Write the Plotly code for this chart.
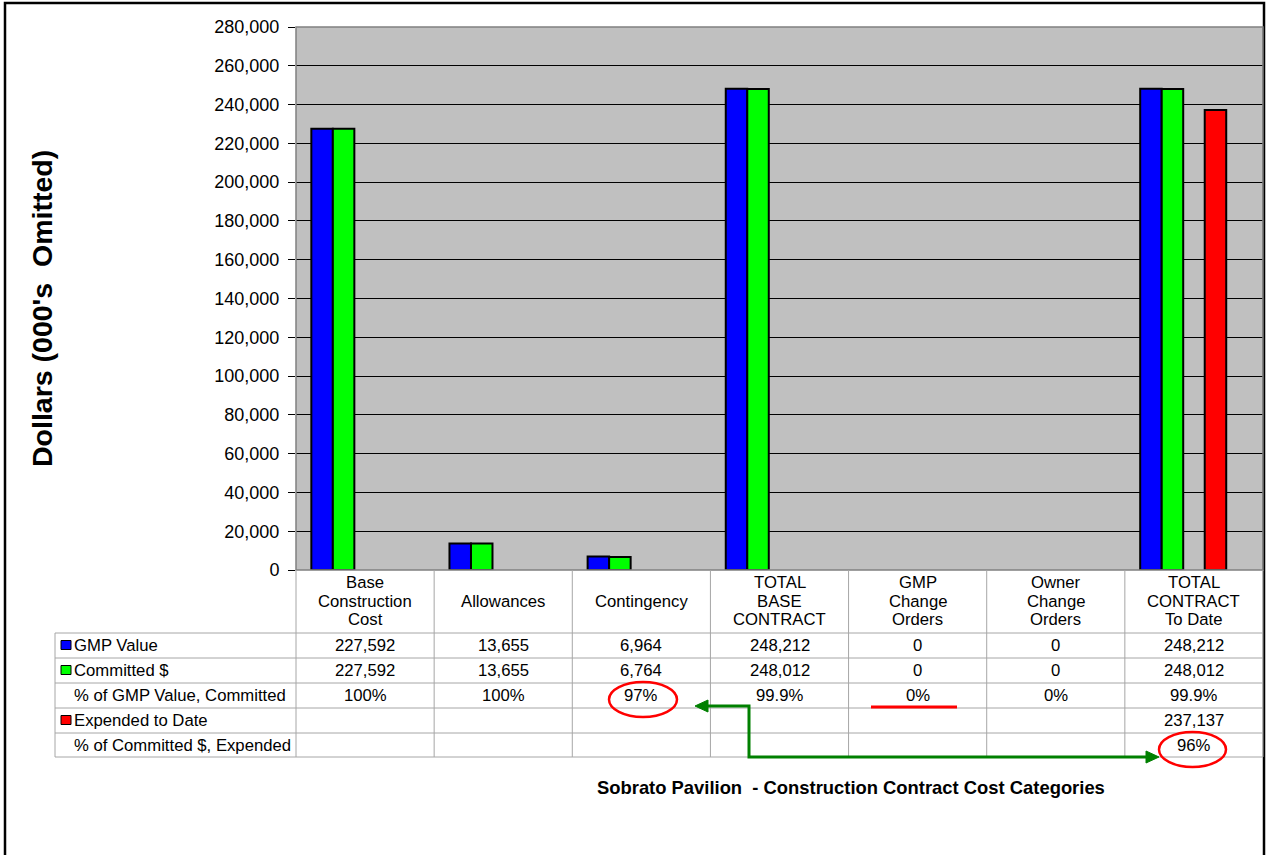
import plotly.graph_objects as go

# ---------------- data ----------------
categories = ["Base<br>Construction<br>Cost", "Allowances", "Contingency",
              "TOTAL<br>BASE<br>CONTRACT", "GMP<br>Change<br>Orders",
              "Owner<br>Change<br>Orders", "TOTAL<br>CONTRACT<br>To Date"]
gmp_value = [227592, 13655, 6964, 248212, 0, 0, 248212]
committed = [227592, 13655, 6764, 248012, 0, 0, 248012]
expended = [None, None, None, None, None, None, 237137]
pct_committed = ["100%", "100%", "97%", "99.9%", "0%", "0%", "99.9%"]
pct_expended = ["", "", "", "", "", "", "96%"]
row_labels = ["GMP Value", "Committed $", "% of GMP Value, Committed",
              "Expended to Date", "% of Committed $, Expended"]
y_ticks = list(range(0, 280001, 20000))

# ---------------- geometry helpers (pixels -> paper) ----------------
W, H = 1273, 855
L, R, T, B = 296, 1263, 27, 570
def fx(px):
    return (px - L) / (R - L)
def fy(py):
    return (B - py) / (B - T)

FONT = "Liberation Sans, Arial, sans-serif"
BLUE, GREEN, RED = "#0000FF", "#00FF00", "#FF0000"
TFS = 16.7  # table font size

n = len(categories)
xpos = list(range(n))
bw = 0.1557
slot0 = -0.389

fig = go.Figure()
for vals, color, slot, name in [(gmp_value, BLUE, 0, "GMP Value"),
                                (committed, GREEN, 1, "Committed $"),
                                (expended, RED, 3, "Expended to Date")]:
    lw = [2 if (v is not None and v > 0) else 0 for v in vals]
    fig.add_trace(go.Bar(x=xpos, y=vals, name=name, width=bw,
                         offset=slot0 + slot * bw,
                         marker=dict(color=color, line=dict(color="black", width=lw)),
                         showlegend=False, hoverinfo="y"))

shapes = []
annotations = []

# outer frame
shapes.append(dict(type="rect", xref="paper", yref="paper",
                   x0=fx(5), x1=fx(1264), y0=fy(3), y1=fy(900),
                   line=dict(color="black", width=2.5), layer="above"))
# plot area border
shapes.append(dict(type="rect", xref="paper", yref="paper",
                   x0=0, x1=1, y0=0, y1=1,
                   line=dict(color="#808080", width=1.5), layer="above"))

GRID = "#A6A6A6"
col_w = (R - L) / n
# table vertical lines
for k in range(n + 1):
    px = L + k * col_w
    shapes.append(dict(type="line", xref="paper", yref="paper",
                       x0=fx(px), x1=fx(px), y0=fy(570), y1=fy(757),
                       line=dict(color=GRID, width=1)))
shapes.append(dict(type="line", xref="paper", yref="paper",
                   x0=fx(55), x1=fx(55), y0=fy(633), y1=fy(757),
                   line=dict(color=GRID, width=1)))
# table horizontal lines
row_edges = [633, 658, 683, 708, 733, 757]
for py in row_edges:
    shapes.append(dict(type="line", xref="paper", yref="paper",
                       x0=fx(55), x1=fx(R), y0=fy(py), y1=fy(py),
                       line=dict(color=GRID, width=1)))

# header labels (one annotation per text line for Excel-like spacing)
LINE_H = 18.5
for i, c in enumerate(categories):
    lines = c.split("<br>")
    m = len(lines)
    for k, ln in enumerate(lines):
        py = 601 + (k - (m - 1) / 2) * LINE_H
        annotations.append(dict(x=i, xref="x", y=fy(py), yref="paper", text=ln,
                                showarrow=False, xanchor="center", yanchor="middle",
                                font=dict(family=FONT, size=TFS, color="black")))

row_centers = [(row_edges[j] + row_edges[j + 1]) / 2 for j in range(5)]
rows = [[f"{v:,}" for v in gmp_value],
        [f"{v:,}" for v in committed],
        pct_committed,
        [("" if v is None else f"{v:,}") for v in expended],
        pct_expended]
for j, (lab, vals) in enumerate(zip(row_labels, rows)):
    yc = fy(row_centers[j])
    annotations.append(dict(x=fx(72), xref="paper", y=yc, yref="paper", text=lab,
                            showarrow=False, xanchor="left", yanchor="middle",
                            font=dict(family=FONT, size=TFS, color="black")))
    for i, v in enumerate(vals):
        if v:
            annotations.append(dict(x=i, xref="x", y=yc, yref="paper", text=v,
                                    showarrow=False, xanchor="center", yanchor="middle",
                                    font=dict(family=FONT, size=TFS, color="black")))

# legend keys in table
for j, color in [(0, BLUE), (1, GREEN), (3, RED)]:
    cy = row_centers[j]
    shapes.append(dict(type="rect", xref="paper", yref="paper",
                       x0=fx(61), x1=fx(71), y0=fy(cy - 5), y1=fy(cy + 4),
                       fillcolor=color, line=dict(color="black", width=1)))

# red ellipses and underline
shapes.append(dict(type="circle", xref="paper", yref="paper",
                   x0=fx(609), x1=fx(677), y0=fy(682), y1=fy(717),
                   line=dict(color="red", width=2.5)))
shapes.append(dict(type="circle", xref="paper", yref="paper",
                   x0=fx(1159), x1=fx(1226), y0=fy(732), y1=fy(767),
                   line=dict(color="red", width=2.5)))
shapes.append(dict(type="line", xref="paper", yref="paper",
                   x0=fx(871), x1=fx(957), y0=fy(707), y1=fy(707),
                   line=dict(color="red", width=3)))

# green connector arrow
GR = "#008000"
path = (f"M {fx(706)},{fy(706)} L {fx(749)},{fy(706)} L {fx(749)},{fy(757)} "
        f"L {fx(1148)},{fy(757)}")
shapes.append(dict(type="path", xref="paper", yref="paper", path=path,
                   line=dict(color=GR, width=3)))
shapes.append(dict(type="path", xref="paper", yref="paper",
                   path=f"M {fx(695)},{fy(706)} L {fx(708)},{fy(700)} L {fx(708)},{fy(712)} Z",
                   fillcolor=GR, line=dict(color=GR, width=1)))
shapes.append(dict(type="path", xref="paper", yref="paper",
                   path=f"M {fx(1159)},{fy(757)} L {fx(1146)},{fy(751)} L {fx(1146)},{fy(763)} Z",
                   fillcolor=GR, line=dict(color=GR, width=1)))

# titles
annotations.append(dict(x=fx(851), xref="paper", y=fy(787), yref="paper",
                        text="<b>Sobrato Pavilion  - Construction Contract Cost Categories</b>",
                        showarrow=False, xanchor="center", yanchor="middle",
                        font=dict(family=FONT, size=18.4, color="black")))
annotations.append(dict(x=fx(42), xref="paper", y=fy(308), yref="paper",
                        text="<b>Dollars (000's  Omitted)</b>", textangle=-90,
                        showarrow=False, xanchor="center", yanchor="middle",
                        font=dict(family=FONT, size=28.5, color="black")))

fig.update_layout(
    width=W, height=H,
    margin=dict(l=L, r=W - R, t=T, b=H - B),
    paper_bgcolor="white", plot_bgcolor="#C0C0C0",
    barmode="overlay",
    showlegend=False,
    shapes=shapes, annotations=annotations,
    font=dict(family=FONT, color="black"),
)
fig.update_xaxes(range=[-0.5, n - 0.5], showticklabels=False, ticks="",
                 showgrid=False, zeroline=False)
fig.update_yaxes(range=[0, 280000], tickvals=y_ticks,
                 ticktext=[f"{v:,}" for v in y_ticks],
                 ticks="outside", ticklen=7, tickcolor="black", tickwidth=1,
                 ticklabelstandoff=5,
                 tickfont=dict(family=FONT, size=18, color="black"),
                 showgrid=True, gridcolor="black", gridwidth=1,
                 zeroline=False, showline=False)

fig.write_html("out.html")
